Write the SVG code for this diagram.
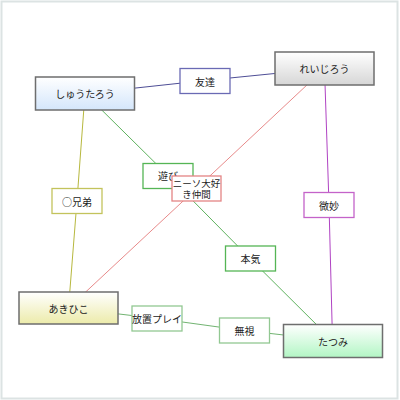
<svg xmlns="http://www.w3.org/2000/svg" width="400" height="400" viewBox="0 0 400 400">
<defs>
<linearGradient id="gBlue" x1="0" y1="0" x2="0" y2="1"><stop offset="0" stop-color="#ffffff"/><stop offset="1" stop-color="#d4e6fb"/></linearGradient>
<linearGradient id="gGray" x1="0" y1="0" x2="0" y2="1"><stop offset="0" stop-color="#ffffff"/><stop offset="1" stop-color="#d6d6d6"/></linearGradient>
<linearGradient id="gYellow" x1="0" y1="0" x2="0" y2="1"><stop offset="0" stop-color="#ffffff"/><stop offset="1" stop-color="#ecebaa"/></linearGradient>
<linearGradient id="gGreen" x1="0" y1="0" x2="0" y2="1"><stop offset="0" stop-color="#ffffff"/><stop offset="1" stop-color="#b2f6c4"/></linearGradient>
</defs>
<style>
.node{stroke:#6e6e6e;stroke-width:1.5}
.lab{fill:#ffffff;stroke-width:1.3}
text{font-family:"Noto Sans CJK JP","Noto Sans",sans-serif;font-size:10px;fill:#222;text-anchor:middle;dominant-baseline:central}
.sm{font-size:9.5px}
.c{fill:none;stroke-width:1}
</style>
<rect x="1.5" y="1.5" width="396" height="397" fill="#ffffff" stroke="#dce3e3" stroke-width="2"/>
<g id="connectors">
<polyline class="c" stroke="#4e4e96" points="85,93.5 205,80.5 324.5,68.5"/>
<polyline class="c" stroke="#5fb35f" points="85,93.5 168,175.5 250,258.5 332.5,340.5"/>
<polyline class="c" stroke="#b7b83e" points="85,93.5 77,200.5 68.5,308"/>
<polyline class="c" stroke="#e88a8a" points="324.5,68.5 196.5,188.5 68.5,308"/>
<polyline class="c" stroke="#b043c3" points="324.5,68.5 329,204.5 332.5,340.5"/>
<polyline class="c" stroke="#72b472" points="68.5,308 157,318.5 244,330.5 332.5,340.5"/>
</g>
<g id="shutaro"><rect class="node" x="35.5" y="77" width="99" height="33" fill="url(#gBlue)"/><text x="85" y="93.5">しゅうたろう</text></g>
<g id="reijiro"><rect class="node" x="275" y="52" width="99" height="33" fill="url(#gGray)"/><text x="324.5" y="68.5">れいじろう</text></g>
<g id="akihiko"><rect class="node" x="19" y="292" width="99" height="32" fill="url(#gYellow)"/><text x="68.5" y="308">あきひこ</text></g>
<g id="tatsumi"><rect class="node" x="283.5" y="324.5" width="99" height="33" fill="url(#gGreen)"/><text x="333" y="341">たつみ</text></g>
<g id="tomodachi"><rect class="lab" stroke="#6a6ab4" x="180" y="68.5" width="50" height="25"/><text x="205" y="81">友達</text></g>
<g id="asobi"><rect class="lab" stroke="#55b555" x="143" y="163.5" width="50" height="25"/><text x="168" y="175.5">遊び</text></g>
<g id="niso"><rect class="lab" stroke="#e48484" x="172" y="176" width="49" height="25"/><text class="sm" x="196.5" y="183">ニーソ大好</text><text class="sm" x="196.5" y="194">き仲間</text></g>
<g id="kyodai"><rect class="lab" stroke="#c3c35c" x="52" y="188.5" width="50" height="25"/><text x="77" y="201">○兄弟</text></g>
<g id="bimyo"><rect class="lab" stroke="#c463c9" x="304" y="192.5" width="50" height="25"/><text x="329" y="205">微妙</text></g>
<g id="honki"><rect class="lab" stroke="#55b555" x="225.5" y="246" width="50" height="25"/><text x="250.5" y="258.5">本気</text></g>
<g id="hochi"><rect class="lab" stroke="#92c892" x="132" y="306" width="50" height="25"/><text x="157" y="318.5">放置プレイ</text></g>
<g id="mushi"><rect class="lab" stroke="#92c892" x="219.5" y="318" width="50" height="25"/><text x="244.5" y="330.5">無視</text></g>
</svg>
